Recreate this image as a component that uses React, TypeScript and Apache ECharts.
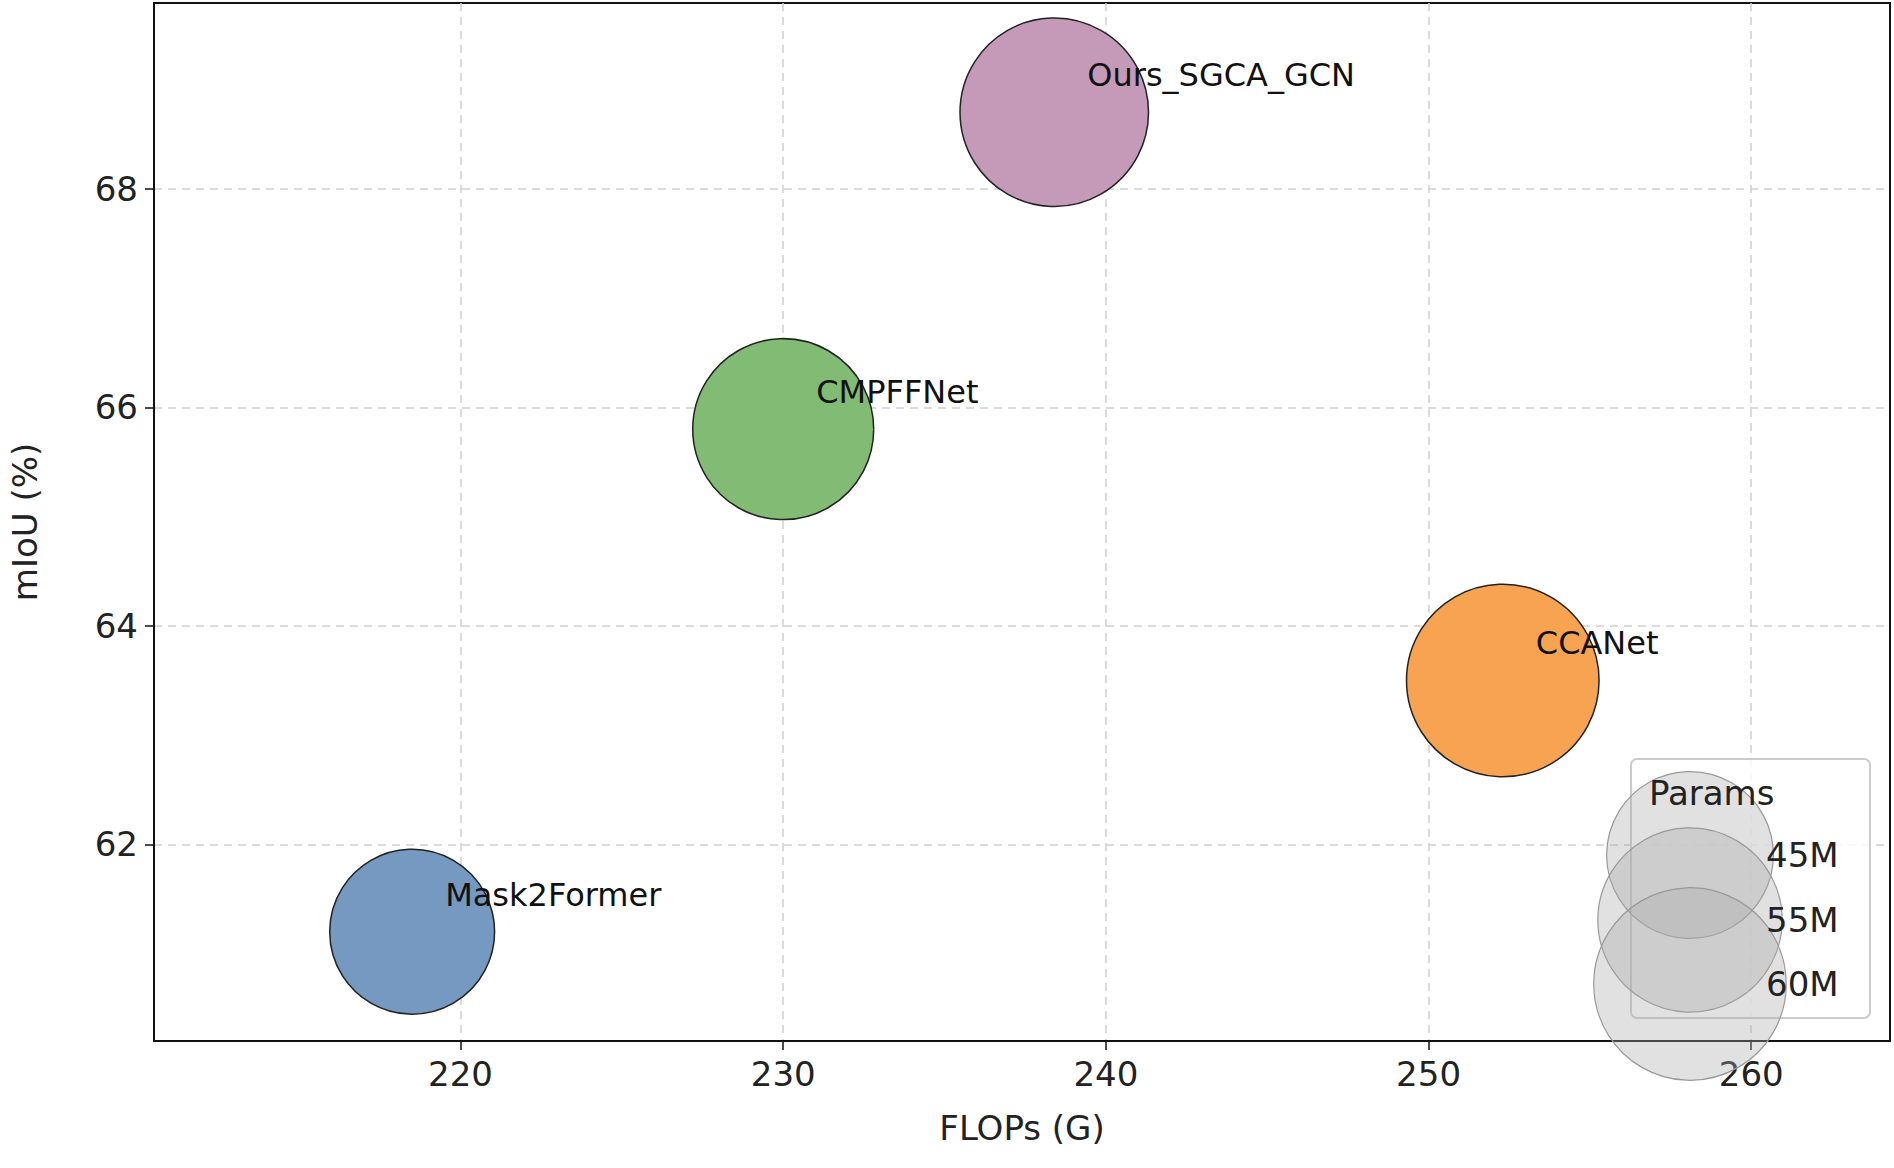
import React, { useEffect, useRef } from "react";
import * as echarts from "echarts";

const models = ["Mask2Former", "CMPFFNet", "Ours_SGCA_GCN", "CCANet"];
const flops = [218.5, 230.0, 238.4, 252.3];
const miou = [61.2, 65.8, 68.7, 63.5];
const params = [44, 53, 57.5, 60];
const colors = ["#7599c1", "#82bb74", "#c49ab8", "#f7a352"];

const xTicks = [220, 230, 240, 250, 260];
const yTicks = [62, 64, 66, 68];
const legendParams = [45, 55, 60];
const legendLabels = ["45M", "55M", "60M"];

const W = 1894;
const H = 1168;
const sizeOf = (p: number) => 24.86 * Math.sqrt(p);

const App: React.FC = () => {
  const chartRef = useRef<HTMLDivElement | null>(null);

  useEffect(() => {
    if (!chartRef.current) return;
    const chart = echarts.init(chartRef.current, undefined, { renderer: "svg" });
    const font = "DejaVu Sans";

    // legend box (bottom right)
    const lx = 1631, lyTop = 759;
    const rowY = [855, 920, 984];
    const legend: any[] = [
      {
        type: "rect",
        shape: { x: lx, y: lyTop, width: 239, height: 259, r: 6 },
        style: { fill: "rgba(255,255,255,0.8)", stroke: "#cccccc", lineWidth: 2 },
        z: 10,
      },
      {
        type: "text",
        x: lx + 18, y: lyTop + 34,
        style: { text: "Params", font: `34px ${font}`, fill: "#222", textVerticalAlign: "middle" },
        z: 12,
      },
    ];
    legendParams.forEach((p, i) => {
      legend.push({
        type: "circle",
        shape: { cx: 1690, cy: rowY[i], r: sizeOf(p) / 2 },
        style: { fill: "rgba(170,170,170,0.35)", stroke: "#999", lineWidth: 1.2 },
        z: 11,
      });
      legend.push({
        type: "text",
        x: 1766, y: rowY[i],
        style: { text: legendLabels[i], font: `34px ${font}`, fill: "#222", textVerticalAlign: "middle" },
        z: 12,
      });
    });

    chart.setOption({
      animation: false,
      backgroundColor: "#fff",
      textStyle: { fontFamily: font },
      grid: { left: 143, right: 4, top: 3, bottom: 127, show: true, borderColor: "#111", borderWidth: 2 },
      xAxis: {
        type: "value",
        min: 210.5,
        max: 264.3,
        name: "FLOPs (G)",
        nameLocation: "middle",
        nameGap: 70,
        nameTextStyle: { fontSize: 34, color: "#222" },
        axisLine: { show: true, lineStyle: { color: "#111", width: 2 } },
        axisTick: { show: true, customValues: xTicks, length: 9, lineStyle: { color: "#111", width: 1.5 } },
        axisLabel: { customValues: xTicks, fontSize: 34, color: "#222", margin: 16 },
        splitLine: { show: true, lineStyle: { color: "#d0d0d0", type: [8, 6], width: 1.5 } },
      },
      yAxis: {
        type: "value",
        min: 60.2,
        max: 69.7,
        name: "mIoU (%)",
        nameLocation: "middle",
        nameGap: 112,
        nameTextStyle: { fontSize: 34, color: "#222" },
        axisLine: { show: true, lineStyle: { color: "#111", width: 2 } },
        axisTick: { show: true, customValues: yTicks, length: 9, lineStyle: { color: "#111", width: 1.5 } },
        axisLabel: { customValues: yTicks, fontSize: 34, color: "#222", margin: 16 },
        splitLine: { show: true, lineStyle: { color: "#d0d0d0", type: [8, 6], width: 1.5 } },
      },
      series: [
        {
          type: "scatter",
          data: models.map((m, i) => ({
            name: m,
            value: [flops[i], miou[i]],
            symbolSize: sizeOf(params[i]),
            itemStyle: { color: colors[i] },
          })),
          itemStyle: { borderColor: "#222", borderWidth: 1.5, opacity: 1 },
          label: {
            show: true,
            formatter: "{b}",
            position: "inside",
            align: "left",
            verticalAlign: "middle",
            offset: [33, -37],
            fontSize: 32,
            color: "#111",
          },
          z: 3,
        },
      ],
      graphic: legend,
    });
    return () => chart.dispose();
  }, []);

  return (
    <div
      ref={chartRef}
      style={{ position: "absolute", left: 0, top: 0, width: W, height: H }}
    />
  );
};

export default App;
